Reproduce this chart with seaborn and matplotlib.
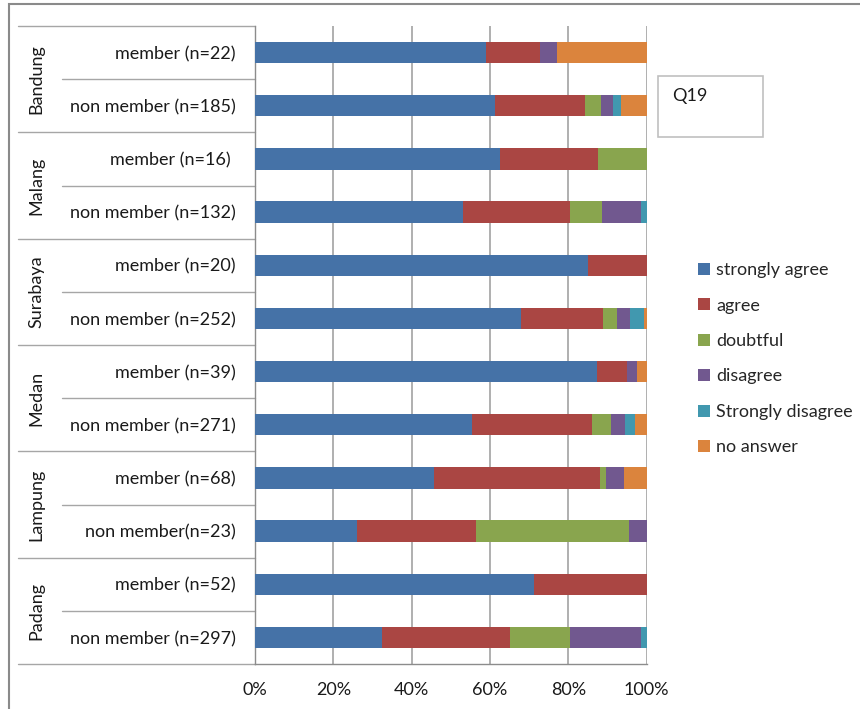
import matplotlib
matplotlib.use("Agg")
import matplotlib.pyplot as plt
from matplotlib.patches import Patch, Rectangle
from matplotlib.transforms import blended_transform_factory
import seaborn as sns
import pandas as pd
import numpy as np

# Q19 answers, share of respondents (%) per city and membership group
cities = ["Bandung", "Malang", "Surabaya", "Medan", "Lampung", "Padang"]
row_labels = [
    "member (n=22)", "non member (n=185)",
    "member (n=16) ", "non member (n=132)",
    "member (n=20)", "non member (n=252)",
    "member (n=39)", "non member (n=271)",
    "member (n=68)", "non member(n=23)",
    "member (n=52)", "non member (n=297)",
]
answers = ["strongly agree", "agree", "doubtful", "disagree",
           "Strongly disagree", "no answer"]

strongly_agree    = [59.1, 61.3, 62.5, 53.0, 85.0, 67.9, 87.2, 55.4, 45.6, 26.1, 71.2, 32.3]
agree             = [13.6, 23.0, 25.0, 27.3, 15.0, 21.0,  7.7, 30.6, 42.6, 30.4, 28.8, 32.7]
doubtful          = [ 0.0,  4.0, 12.5,  8.3,  0.0,  3.5,  0.0,  4.8,  1.5, 39.1,  0.0, 15.5]
disagree          = [ 4.5,  3.0,  0.0,  9.9,  0.0,  3.3,  2.6,  3.7,  4.4,  4.4,  0.0, 18.1]
strongly_disagree = [ 0.0,  2.1,  0.0,  1.5,  0.0,  3.5,  0.0,  2.5,  0.0,  0.0,  0.0,  1.4]
no_answer         = [22.8,  6.6,  0.0,  0.0,  0.0,  0.8,  2.5,  3.0,  5.9,  0.0,  0.0,  0.0]

colors = ["#4572A7", "#AA4643", "#89A54E", "#71588F", "#4198AF", "#DB843D"]

series = [strongly_agree, agree, doubtful, disagree, strongly_disagree, no_answer]
df = pd.DataFrame({"row": row_labels})
for name, vals in zip(answers, series):
    df[name] = vals
# normalise each row to 100 %
totals = df[answers].sum(axis=1)
for name in answers:
    df[name] = df[name] / totals * 100
cum = df[answers].cumsum(axis=1)

sns.set_theme(style="white")
plt.rcParams["font.family"] = ["Lato", "DejaVu Sans"]
FS = 13
TXT = "#1a1a1a"

fig = plt.figure(figsize=(8.6, 7.09), dpi=100)
W, H = 860, 709
ax = fig.add_axes([255 / W, 1 - 664 / H, (646.7 - 255) / W, (664 - 26) / H])

# stacked bars: draw cumulative totals from the right-most layer down
for name, col in reversed(list(zip(answers, colors))):
    sns.barplot(x=cum[name], y=df["row"], orient="h", color=col,
                width=0.4, ax=ax, saturation=1, linewidth=0, zorder=3)

ax.set_xlim(0, 100)
ax.set_xticks(np.arange(0, 101, 20))
ax.set_xticklabels([f"{v}%" for v in range(0, 101, 20)], fontsize=FS, color=TXT)
ax.set_yticks(range(len(row_labels)))
ax.set_yticklabels(row_labels, fontsize=FS, color=TXT)
ax.set_xlabel("")
ax.set_ylabel("")
ax.xaxis.grid(True, color="#9a9a9a", linewidth=1.1, zorder=0)
ax.set_axisbelow(True)
for s in ["top", "right"]:
    ax.spines[s].set_visible(False)
for s in ["left", "bottom"]:
    ax.spines[s].set_color("#8c8c8c")
    ax.spines[s].set_linewidth(1.0)
ax.tick_params(axis="y", length=0, pad=14)
ax.tick_params(axis="x", length=6, width=1.0, color="#8c8c8c", pad=7, direction="out")
ax.set_ylim(len(row_labels) - 0.5, -0.5)

# row and city separators in the label area
tr = blended_transform_factory(fig.transFigure, ax.transData)
for i in range(len(row_labels) + 1):
    yb = i - 0.5
    x0 = 18 / W if i % 2 == 0 else 62 / W
    ax.plot([x0, 255 / W], [yb, yb], transform=tr, color="#a6a6a6",
            linewidth=1.0, clip_on=False, zorder=1)

# city names, rotated
for k, city in enumerate(cities):
    ax.text(36 / W, 2 * k + 0.5, city, transform=tr, rotation=90,
            ha="center", va="center", fontsize=FS, color=TXT)

# question box
fig.patches.append(Rectangle((658 / W, 1 - 137 / H), 105 / W, 61 / H,
                             transform=fig.transFigure, fill=False,
                             edgecolor="#c0c0c0", linewidth=1.2))
fig.text(672 / W, 1 - 96 / H, "Q19", fontsize=FS, va="center", ha="left",
         color=TXT)

# outer chart frame
fig.patches.append(Rectangle((9 / W, -0.1), 1.2, 1 - 4 / H + 0.1,
                             transform=fig.transFigure, fill=False,
                             edgecolor="#8a8a8a", linewidth=1.5))

handles = [Patch(facecolor=c, edgecolor="none") for c in colors]
fig.legend(handles, answers, loc="upper left",
           bbox_to_anchor=(698 / W, 1 - 262 / H), frameon=False,
           fontsize=FS, handlelength=0.65, handleheight=0.65,
           handletextpad=0.35, labelspacing=1.08, borderaxespad=0,
           borderpad=0)

fig.savefig("out.png", dpi=100)
